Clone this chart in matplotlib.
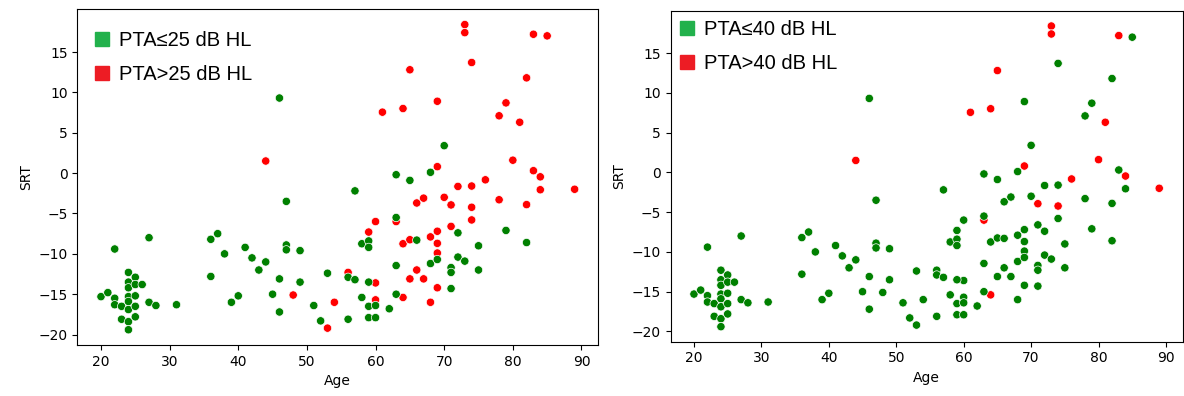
import numpy as np
import matplotlib.pyplot as plt
from matplotlib.lines import Line2D

# pta_band: 0 = PTA <= 25, 1 = 25 < PTA <= 40, 2 = PTA > 40
age_c = [44, 73, 73, 83, 65, 61, 64, 81, 80, 69, 84, 76, 89, 71, 74, 63, 64]
srt_c = [1.5, 18.4, 17.4, 17.2, 12.8, 7.55, 8.0, 6.3, 1.6, 0.8, -0.46, -0.83, -2.0, -3.94, -4.23, -6.0, -15.4]

age_b = [48, 53, 54, 85, 74, 82, 69, 79, 78, 83, 72, 74, 84, 66, 67, 70, 74, 78, 82,
         60, 59, 64, 65, 68, 69, 69, 69, 71, 66, 65, 67, 69, 68, 60, 60, 56]
srt_b = [-15.1, -19.2, -16.0, 17.0, 13.7, 11.8, 8.9, 8.7, 7.1, 0.3, -1.65, -1.6, -2.06, -3.7, -3.1, -3.0, -5.8, -3.3, -3.9,
         -6.0, -7.3, -8.75, -8.25, -7.9, -7.2, -8.7, -9.9, -6.6, -12.0, -13.1, -13.1, -14.2, -16.0, -13.6, -15.7, -12.3]

age_a = [20, 21, 22, 22, 22, 23, 23,
         24, 24, 24, 24, 24, 24, 24, 24,
         25, 25, 25, 25, 25, 26, 27, 27, 28, 31,
         36, 37, 36, 38, 39, 40, 41, 42, 43, 44, 45, 46, 46, 46, 47, 47, 47, 49, 49, 51, 52, 53,
         56, 56, 57, 57, 58, 58, 59, 59, 59, 59, 59, 60, 60, 62,
         63, 63, 63, 63, 65, 66, 68, 68, 69, 70, 71, 71, 71, 72, 72, 73, 75, 75, 79, 82]
srt_a = [-15.3, -14.8, -9.4, -15.5, -16.3, -16.5, -18.1,
         -12.3, -13.5, -14.2, -15.3, -15.9, -16.9, -18.4, -19.4,
         -12.9, -13.8, -15.2, -16.5, -17.8, -13.8, -8.0, -16.0, -16.4, -16.3,
         -8.2, -7.5, -12.8, -10.0, -16.0, -15.2, -9.2, -10.5, -12.0, -11.0, -15.0, -13.1, -17.2, 9.3, -3.5, -8.9, -9.5, -9.6, -13.5, -16.4, -18.3, -12.4,
         -12.9, -18.1, -2.2, -13.2, -8.75, -15.4, -8.4, -9.2, -13.5, -16.5, -17.9, -16.4, -17.9, -16.8,
         -0.2, -5.5, -11.45, -15.0, -0.9, -8.3, 0.1, -11.2, -10.7, 3.4, -11.7, -12.3, -14.3, -7.4, -10.4, -10.9, -9.0, -12.0, -7.1, -8.6]

age = np.array(age_c + age_b + age_a)
srt = np.array(srt_c + srt_b + srt_a)
band = np.array([2] * len(age_c) + [1] * len(age_b) + [0] * len(age_a))

labels = [("PTA\u226425 dB HL", "PTA>25 dB HL"), ("PTA\u226440 dB HL", "PTA>40 dB HL")]

fig = plt.figure(figsize=(11.84, 3.96), dpi=100)
ax1 = fig.add_axes([77.3 / 1184, 51 / 396, 521 / 1184, 335.7 / 396])
ax2 = fig.add_axes([670.7 / 1184, 54.3 / 396, 511.8 / 1184, 330.7 / 396])

leg_pos = [(0.029, 0.935), (0.013, 0.972)]

for i, ax in enumerate([ax1, ax2]):
    if i == 0:
        red = band >= 1
    else:
        red = band == 2
    cols = np.where(red, "red", "green")
    ax.scatter(age, srt, c=cols, s=36, edgecolors="white", linewidths=0.5)
    ax.set_xlabel("Age")
    ax.set_ylabel("SRT")
    ax.set_xticks([20, 30, 40, 50, 60, 70, 80, 90])
    ax.set_yticks([-20, -15, -10, -5, 0, 5, 10, 15])
    handles = [
        Line2D([], [], marker="s", linestyle="none", markersize=9.4, color="#22b14c"),
        Line2D([], [], marker="s", linestyle="none", markersize=9.4, color="#ed1c24"),
    ]
    ax.legend(handles, labels[i], loc="upper left", bbox_to_anchor=leg_pos[i],
              frameon=False, borderpad=0, borderaxespad=0, handlelength=1.0,
              handletextpad=0.3, labelspacing=0.73,
              prop={"family": ["Liberation Sans", "DejaVu Sans"], "size": 14.5})

fig.savefig("out.png", dpi=100)
